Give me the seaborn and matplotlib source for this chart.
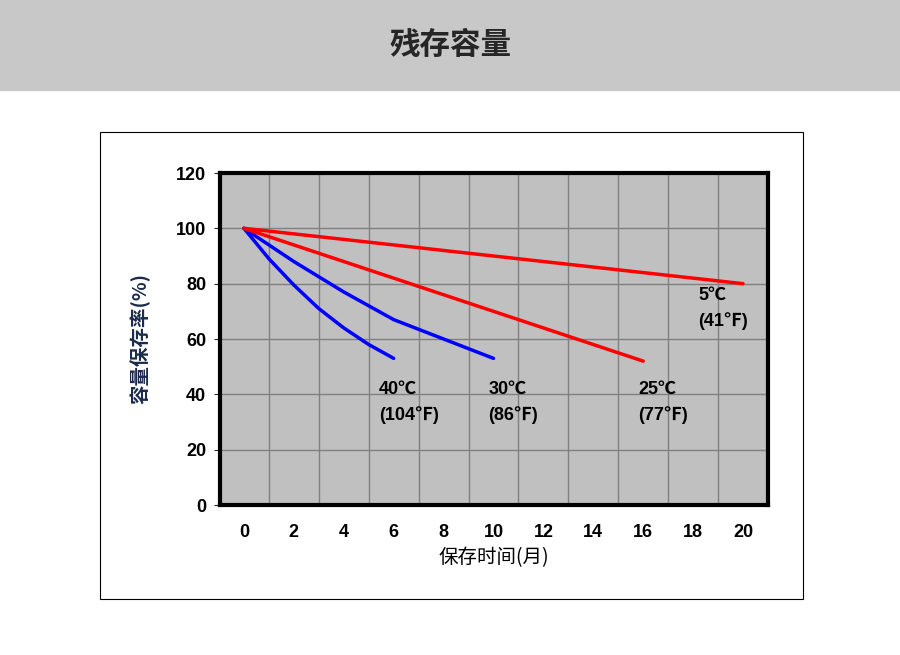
import numpy as np
import matplotlib.pyplot as plt
import seaborn as sns

sns.set_style("white")
plt.rcParams['font.family'] = ['Liberation Sans', 'Noto Sans CJK SC', 'DejaVu Sans']

# 数据
x_40 = [0, 1, 2, 3, 4, 5, 6]
y_40 = [100, 89, 79.5, 71, 64, 58, 53]
x_30 = [0, 2, 4, 6, 8, 10]
y_30 = [100, 88, 77, 67, 60, 53]
x_25 = [0, 16]
y_25 = [100, 52]
x_5 = [0, 20]
y_5 = [100, 80]
labels = ["40℃\n(104℉)", "30℃\n(86℉)", "25℃\n(77℉)", "5℃\n(41℉)"]
label_pos = [(5.4, 37), (9.8, 37), (15.8, 37), (18.2, 71)]

fig = plt.figure(figsize=(9, 6.55), dpi=100)
# 顶部灰色标题栏
fig.patches.append(plt.Rectangle((0, 1 - 90/655), 1, 90/655, transform=fig.transFigure,
                                 color='#c8c8c8', zorder=0))
fig.text(0.5, 1 - 45/655, '残存容量', ha='center', va='center', fontsize=22,
         fontweight='bold', family=['Noto Sans CJK SC'])
# 外框
fig.patches.append(plt.Rectangle((100/900, 1 - 599/655), 703/900, 467/655,
                                 transform=fig.transFigure, fill=False, ec='black', lw=0.8))

ax = fig.add_axes([220/900, 1 - 505/655, 548/900, 332/655])
ax.set_facecolor('#c0c0c0')
for v in range(1, 21, 2):
    ax.axvline(v, color='#808080', lw=1, zorder=0)
for v in range(20, 120, 20):
    ax.axhline(v, color='#808080', lw=1, zorder=0)

sns.lineplot(x=x_40, y=y_40, color='#0000ff', lw=2.5, ax=ax)
sns.lineplot(x=x_30, y=y_30, color='#0000ff', lw=2.5, ax=ax)
sns.lineplot(x=x_25, y=y_25, color='#ff0000', lw=2.5, ax=ax)
sns.lineplot(x=x_5, y=y_5, color='#ff0000', lw=2.5, ax=ax)
for t, (px, py) in zip(labels, label_pos):
    ax.text(px, py, t, fontsize=13, fontweight='bold', ha='left', va='center',
            linespacing=1.6, color='black')

ax.set_xlim(-0.96, 21)
ax.set_ylim(0, 120)
ax.set_xticks(range(0, 21, 2))
ax.set_yticks(range(0, 121, 20))
ax.tick_params(axis='x', length=0, pad=14, labelsize=13, labelcolor='black')
ax.tick_params(axis='y', length=4, direction='out', left=True, labelsize=13, pad=6,
               labelcolor='black')
for lab in ax.get_xticklabels() + ax.get_yticklabels():
    lab.set_fontweight('bold')
for s in ax.spines.values():
    s.set_linewidth(3)
    s.set_color('black')
ax.set_xlabel('保存时间(月)', fontsize=14, family=['Noto Sans CJK SC', 'DejaVu Sans'],
              labelpad=4, color='black')
ax.set_ylabel('容量保存率(%)', fontsize=14, fontweight='bold',
              family=['Noto Sans CJK SC', 'DejaVu Sans'], color='#1a2a4a', labelpad=18)

fig.savefig('out.png')
